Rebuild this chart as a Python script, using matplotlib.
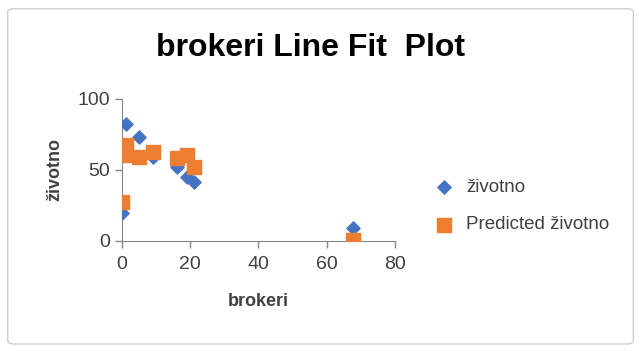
import matplotlib.pyplot as plt
from matplotlib.patches import FancyBboxPatch

plt.rcParams['font.family'] = ['Liberation Sans', 'DejaVu Sans']

# data
brokeri = [0, 1.2, 0.7, 4.9, 9.1, 16.1, 19.0, 21.2, 67.8]
zivotno = [19.3, 82.4, 62.0, 73.4, 59.3, 51.8, 45.2, 41.6, 8.7]
predicted = [27.5, 67.5, 60.5, 59.3, 62.8, 58.1, 60.5, 51.8, 0.9]

blue = '#4472C4'
orange = '#ED7D31'
grey = '#868686'

fig = plt.figure(figsize=(6.41, 3.51), dpi=100)
fig.patches.append(FancyBboxPatch((0.012, 0.02), 0.976, 0.955, boxstyle='round,pad=0,rounding_size=0.01',
                                  transform=fig.transFigure, fill=False, edgecolor='#d0d0d0', linewidth=1))

ax = fig.add_axes([0.19, 0.314, 0.426, 0.404])
ax.scatter(brokeri, zivotno, marker='D', s=45, color=blue, label='životno', zorder=3)
ax.scatter(brokeri, predicted, marker='s', s=110, color=orange, label='Predicted životno', zorder=4)

ax.set_xlim(0, 80)
ax.set_ylim(0, 100)
ax.set_xticks([0, 20, 40, 60, 80])
ax.set_yticks([0, 50, 100])
for s in ['top', 'right']:
    ax.spines[s].set_visible(False)
for s in ['left', 'bottom']:
    ax.spines[s].set_color(grey)
ax.tick_params(axis='both', colors=grey, labelcolor='#404040', labelsize=14, length=5, width=1)
ax.tick_params(axis='x', pad=6)

ax.set_xlabel('brokeri', fontsize=13, fontweight='bold', color='#404040', labelpad=14)
ax.set_ylabel('životno', fontsize=13, fontweight='bold', color='#404040', labelpad=10)

fig.text(0.485, 0.863, 'brokeri Line Fit  Plot', ha='center', va='center', fontsize=23, fontweight='bold', color='black')

fig.legend(loc='center left', bbox_to_anchor=(0.637, 0.413), frameon=False, fontsize=13.5,
           labelspacing=1.1, handletextpad=0.2, labelcolor='#404040')

fig.savefig('out.png', dpi=100)
